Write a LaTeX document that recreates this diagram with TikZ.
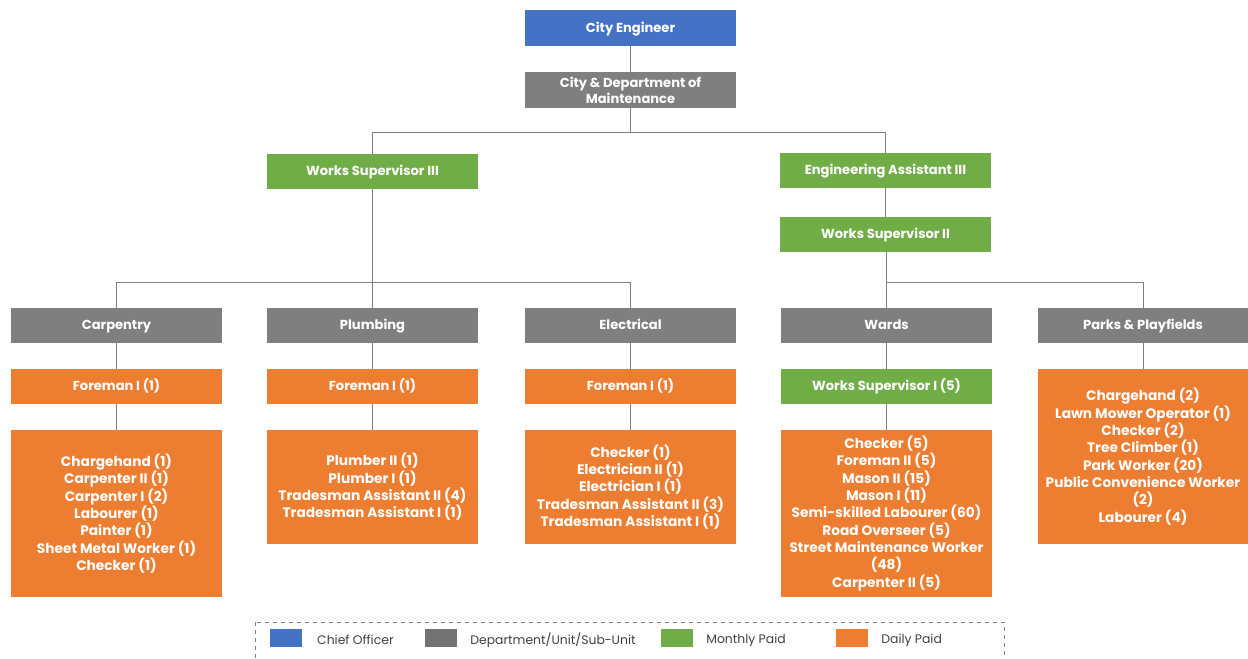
\documentclass[tikz,border=0pt]{standalone}
\usepackage{fontspec}
\setmainfont{Poppins}
\usepackage{tikz}
\usetikzlibrary{positioning}
\usetikzlibrary{calc}
\definecolor{chief}{HTML}{4472C4}
\definecolor{unit}{HTML}{7F7F7F}
\definecolor{monthly}{HTML}{70AD47}
\definecolor{daily}{HTML}{ED7D31}
\definecolor{legendtext}{HTML}{404040}
\tikzstyle{post}=[rectangle,inner sep=0mm,minimum width=158.25pt,minimum height=26.5pt,text=white,align=center,font=\fontsize{9.8}{12}\selectfont\bfseries]
\tikzstyle{single}=[post,text height=1.45ex,text depth=0.25ex]
\tikzstyle{staff}=[post,fill=daily,font=\fontsize{10.3}{13}\selectfont\bfseries]
\tikzstyle{link}=[draw=unit,line width=0.6pt]
\tikzstyle{swatch}=[rectangle,inner sep=0mm,minimum width=24pt,minimum height=13pt]
\tikzstyle{key}=[anchor=west,inner sep=0mm,text=legendtext,font=\fontsize{9.3}{11}\selectfont]

\begin{document}
\begin{tikzpicture}[x=0.75pt,y=-0.75pt]
    \useasboundingbox (0,0) rectangle (1248,658);
    % top of the chart
    \node[single,fill=chief] at (630.5,28) (engineer) {City Engineer};
    \node[post,fill=unit] at (630.5,90) (maint) {City \& Department of\\Maintenance};
    \node[single,fill=monthly] at (372.5,171.5) (ws3) {Works Supervisor III};
    \node[single,fill=monthly] at (885.5,170.5) (ea3) {Engineering Assistant III};
    \node[single,fill=monthly] at (885.5,234.5) (ws2) {Works Supervisor II};
    % units
    \node[single,fill=unit] at (116.5,325.5) (carpentry) {Carpentry};
    \node[single,fill=unit] at (372.5,325.5) (plumbing) {Plumbing};
    \node[single,fill=unit] at (630.5,325.5) (electrical) {Electrical};
    \node[single,fill=unit] at (886.5,325.5) (wards) {Wards};
    \node[single,fill=unit] at (1143,325.5) (parks) {Parks \& Playfields};
    % foremen
    \node[single,fill=daily] at (116.5,386.5) (fcarp) {Foreman I (1)};
    \node[single,fill=daily] at (372.5,386.5) (fplumb) {Foreman I (1)};
    \node[single,fill=daily] at (630.5,386.5) (felec) {Foreman I (1)};
    \node[single,fill=monthly] at (886.5,386.5) (ws1) {Works Supervisor I (5)};
    % staff lists
    \node[staff,minimum height=125.25pt] at (116.5,513.5) (scarp) {Chargehand (1)\\Carpenter II (1)\\Carpenter I (2)\\Labourer (1)\\Painter (1)\\Sheet Metal Worker (1)\\Checker (1)};
    \node[staff,minimum height=85.5pt] at (372.5,487) (splumb) {Plumber II (1)\\Plumber I (1)\\Tradesman Assistant II (4)\\Tradesman Assistant I (1)};
    \node[staff,minimum height=85.5pt] at (630.5,487) (selec) {Checker (1)\\Electrician II (1)\\Electrician I (1)\\Tradesman Assistant II (3)\\Tradesman Assistant I (1)};
    \node[staff,minimum height=125.25pt] at (886.5,513.5) (swards) {Checker (5)\\Foreman II (5)\\Mason II (15)\\Mason I (11)\\Semi-skilled Labourer (60)\\Road Overseer (5)\\Street Maintenance Worker\\(48)\\Carpenter II (5)};
    \node[staff,minimum height=131.25pt] at (1143,456.5) (sparks) {Chargehand (2)\\Lawn Mower Operator (1)\\Checker (2)\\Tree Climber (1)\\Park Worker (20)\\Public Convenience Worker\\(2)\\Labourer (4)};
    % connectors
    \draw[link] (engineer) -- (maint);
    \draw[link] (maint.south) -- ++(0,24) -| (ws3.north);
    \draw[link] (maint.south) -- ++(0,24) -| (ea3.north);
    \draw[link] (ea3) -- (ws2);
    \draw[link] (ws3.south) -- ++(0,93) -| (carpentry.north);
    \draw[link] (ws3) -- (plumbing);
    \draw[link] (ws3.south) -- ++(0,93) -| (electrical.north);
    \draw[link] (ws2.south -| wards.north) -- (wards.north);
    \draw[link] (ws2.south -| wards.north) -- ++(0,30) -| (parks.north);
    \draw[link] (carpentry) -- (fcarp);
    \draw[link] (plumbing) -- (fplumb);
    \draw[link] (electrical) -- (felec);
    \draw[link] (wards) -- (ws1);
    \draw[link] (parks) -- (sparks);
    \draw[link] (fcarp) -- (scarp);
    \draw[link] (fplumb) -- (splumb);
    \draw[link] (felec) -- (selec);
    \draw[link] (ws1) -- (swards);
    % legend
    \draw[unit,dashed,line width=0.6pt] (255,622) rectangle (1004,672);
    \node[swatch,fill=chief] at (286,638) (kchief) {};
    \node[key,right=11pt of kchief,yshift=-1.5pt] (lchief) {Chief Officer};
    \node[swatch,fill=unit!90!black] at (440.5,638) (kunit) {};
    \node[key,right=10pt of kunit,yshift=-1.5pt] (lunit) {Department/Unit/Sub-Unit};
    \node[swatch,fill=monthly] at (676.5,638) (kmonthly) {};
    \node[key,right=10pt of kmonthly,yshift=-1.5pt] (lmonthly) {Monthly Paid};
    \node[swatch,fill=daily] at (851.5,638) (kdaily) {};
    \node[key,right=10pt of kdaily,yshift=-1.5pt] (ldaily) {Daily Paid};
  \end{tikzpicture}
\end{document}
